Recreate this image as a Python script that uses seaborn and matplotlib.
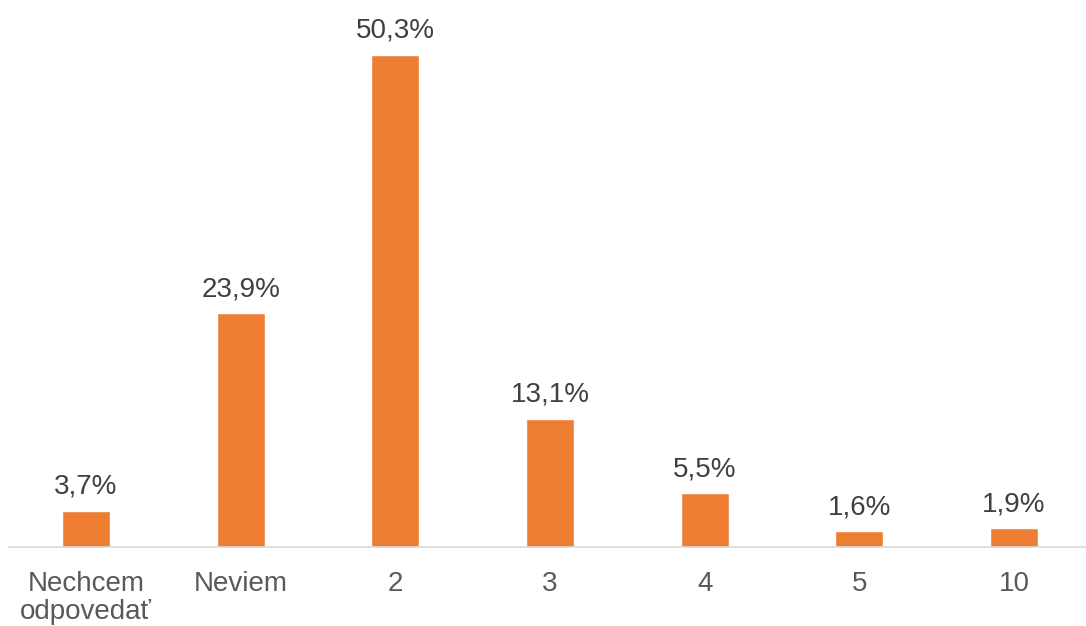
import matplotlib
matplotlib.use("Agg")
import matplotlib.pyplot as plt
import seaborn as sns
import pandas as pd

categories = ["Nechcem\nodpovedať", "Neviem", "2", "3", "4", "5", "10"]
values = [3.7, 23.9, 50.3, 13.1, 5.5, 1.6, 1.9]
labels = ["3,7%", "23,9%", "50,3%", "13,1%", "5,5%", "1,6%", "1,9%"]

sns.set_theme(style="white")
plt.rcParams['font.family'] = ['Liberation Sans', 'DejaVu Sans']

df = pd.DataFrame({"cat": categories, "val": values})

fig = plt.figure(figsize=(10.86, 6.26), dpi=100)
ax = fig.add_axes([9 / 1086, 79 / 626, 1077 / 1086, 547 / 626])
sns.barplot(data=df, x="cat", y="val", color="#ED7D31", saturation=1, width=0.31, ax=ax)

ax.bar_label(ax.containers[0], labels=labels, padding=8, fontsize=20, color="#404040")

ax.set_xlim(-0.498, 6.465)
ax.set_ylim(0, 55.92)
ax.set_xlabel("")
ax.set_ylabel("")
ax.set_yticks([])
for s in ["top", "right", "left"]:
    ax.spines[s].set_visible(False)
ax.spines["bottom"].set_color("#D9D9D9")
ax.spines["bottom"].set_linewidth(1.2)
ax.tick_params(axis="x", length=0, pad=17, labelsize=20, labelcolor="#595959")
for t in ax.get_xticklabels():
    t.set_linespacing(1.12)

fig.savefig("out.png", dpi=100)
